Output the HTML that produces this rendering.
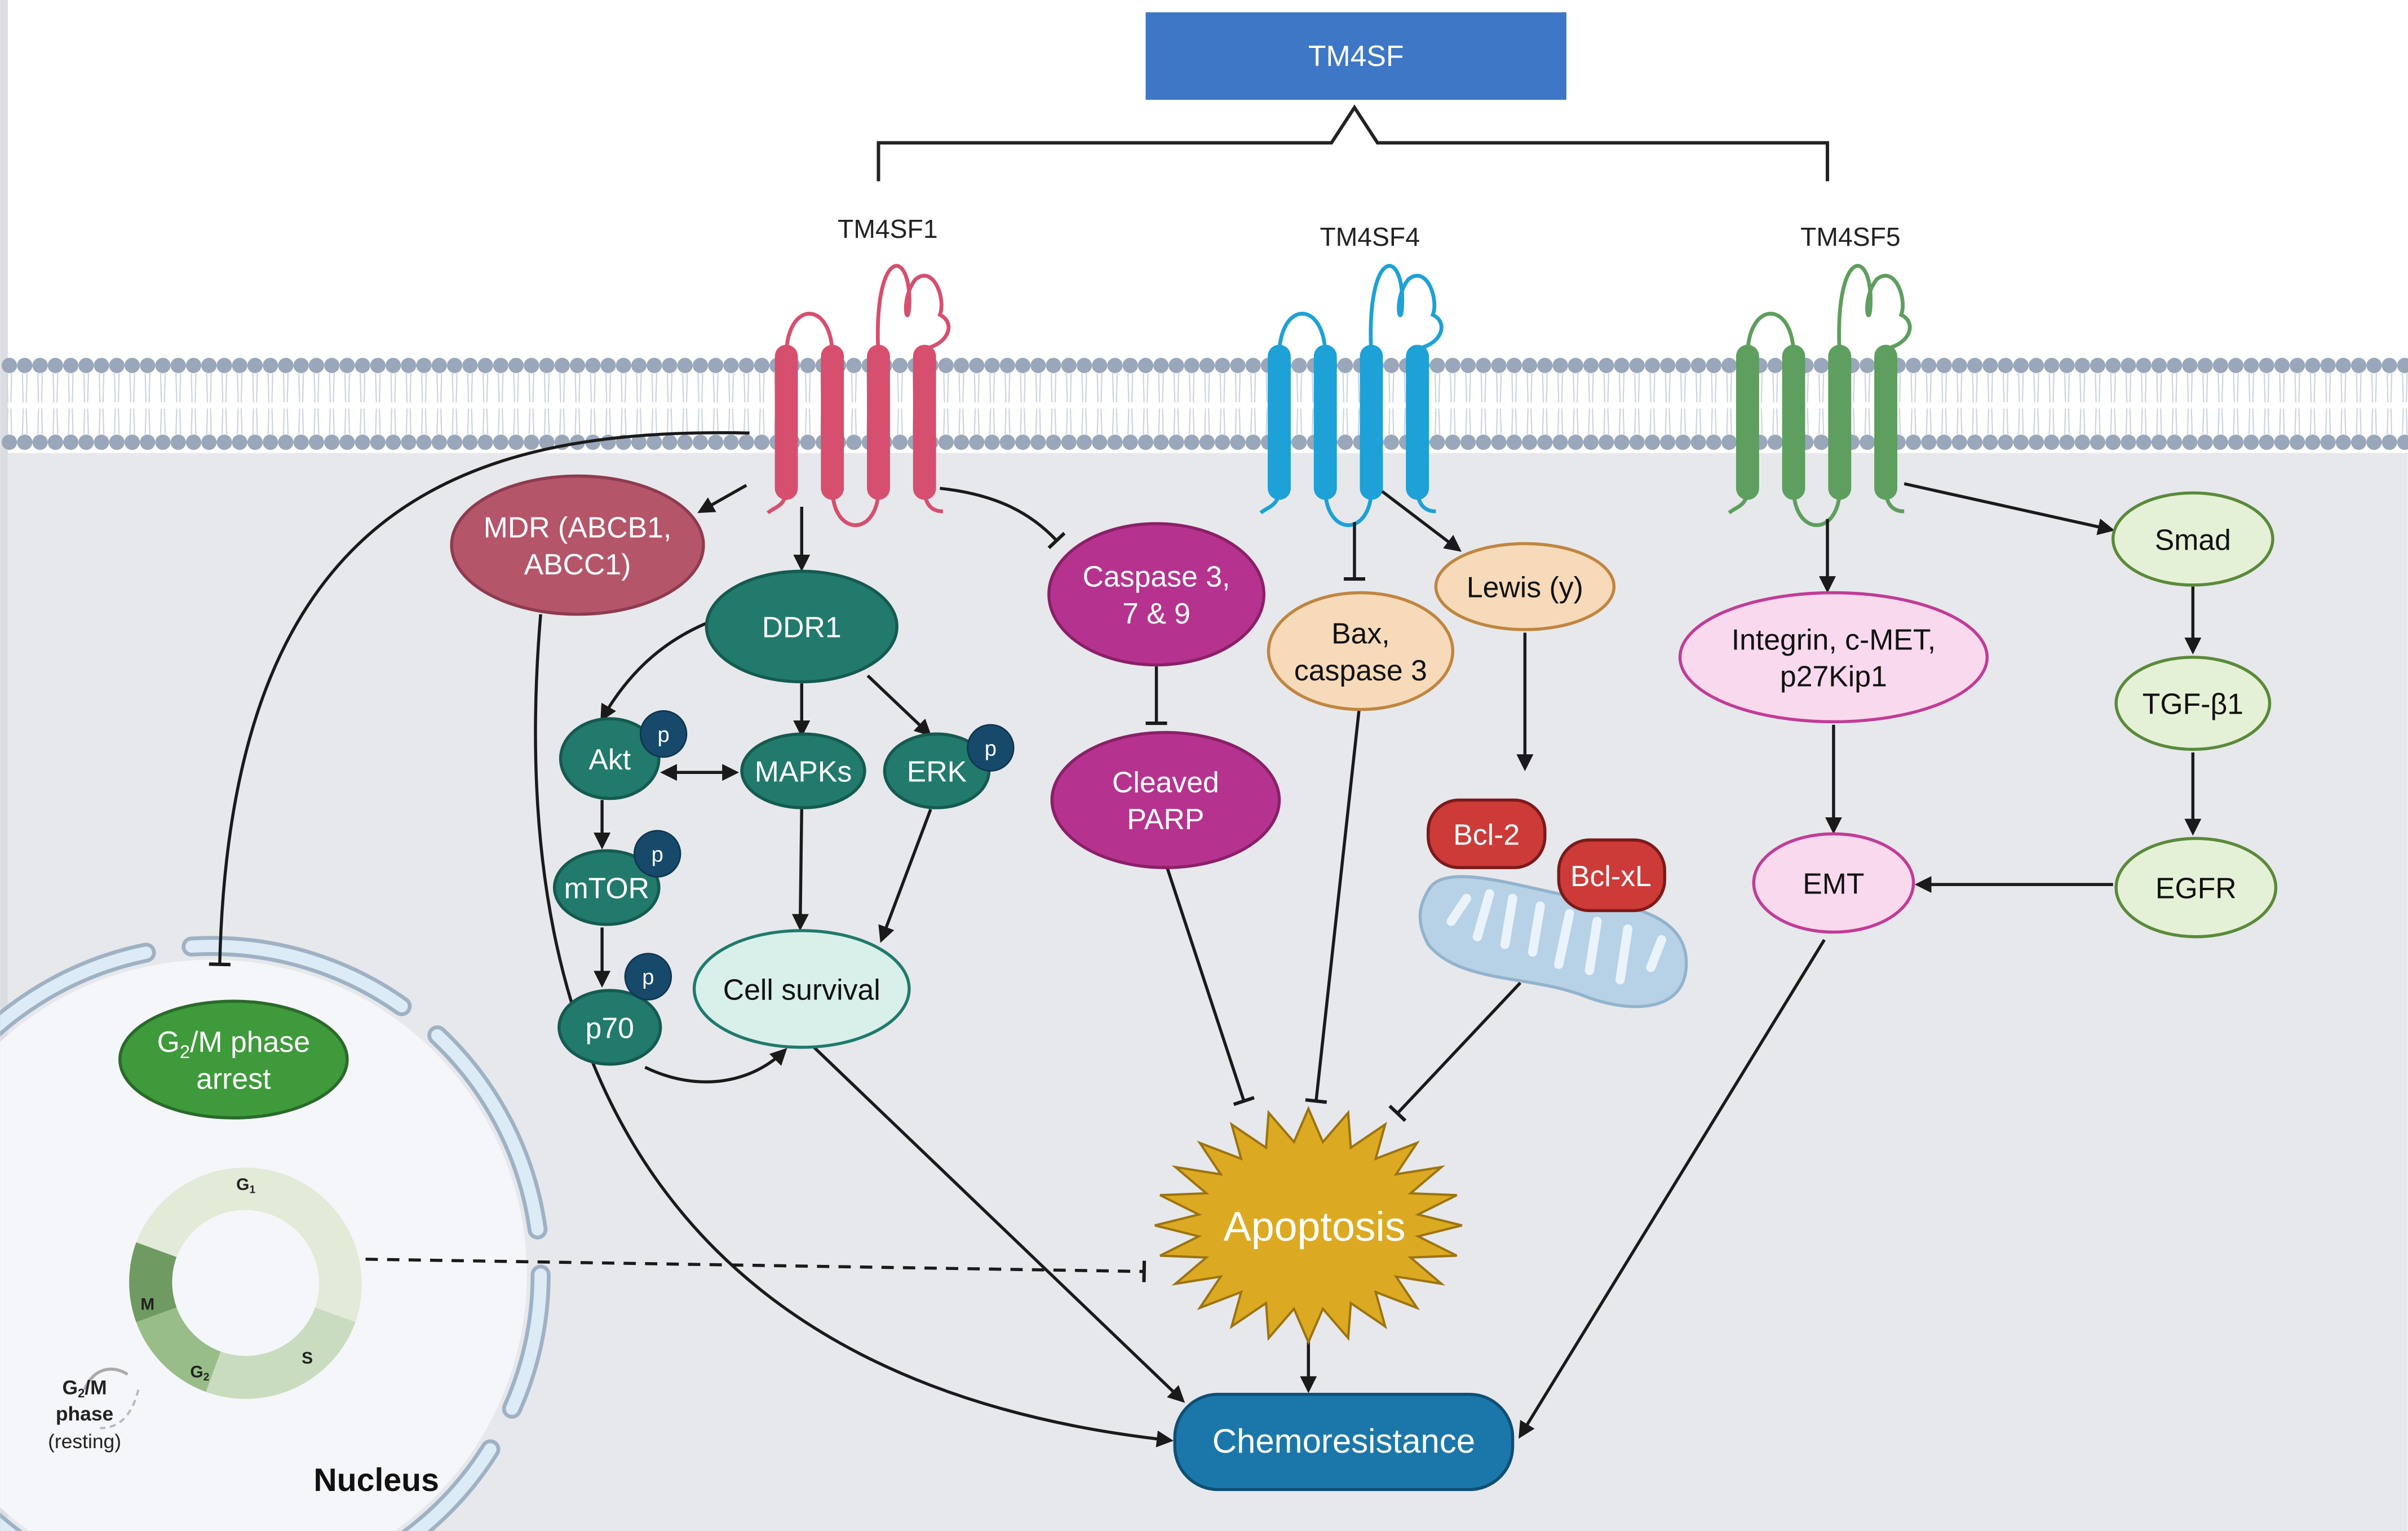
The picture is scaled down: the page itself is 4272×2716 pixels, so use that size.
<!DOCTYPE html>
<html><head><meta charset="utf-8"><style>
html,body{margin:0;padding:0;background:#fff;width:4272px;height:2716px;overflow:hidden}
svg{display:block}
text{font-family:"Liberation Sans",sans-serif}
</style></head><body>
<svg width="4272" height="2716" viewBox="0 0 1568 997" xmlns="http://www.w3.org/2000/svg">
<defs>
<marker id="ar" viewBox="0 0 10 10" refX="8" refY="5" markerWidth="11" markerHeight="11" orient="auto-start-reverse" markerUnits="userSpaceOnUse"><path d="M0,0 L10,5 L0,10 z" fill="#1a1a1a"/></marker>
<marker id="tb" viewBox="0 0 10 10" refX="5" refY="5" markerWidth="14" markerHeight="14" orient="auto" markerUnits="userSpaceOnUse"><path d="M5,0 L5,10" stroke="#1a1a1a" stroke-width="1.6"/></marker>
<g id="prot" fill="none" stroke="currentColor">
<path d="M0,232 L0,318 M30,232 L30,318 M60,232 L60,318 M90,232 L90,318" stroke-width="15" stroke-linecap="round"/>
<path d="M0,232 C0,195 30,195 30,232 M60,232 C56,160 82,160 80,200 C79,215 74,195 84,182 C96,172 104,195 100,205 C110,210 106,222 94,226 L90,232 M30,318 C30,350 60,350 60,318 M0,318 C0,330 -8,330 -12,334 M90,318 C90,330 96,333 102,333" stroke-width="2.5"/>
</g>
<clipPath id="nc"><rect x="0" y="295" width="1568" height="702"/></clipPath>
</defs>

<rect width="1568" height="997" fill="#fff"/>
<rect x="0" y="295" width="1568" height="702" fill="#e7e8ec"/>
<rect x="0" y="0" width="5" height="997" fill="#dcdde2"/>
<g stroke="#cbd4e0" stroke-width="0.8">
<path id="tails" d=""/>
</g>
<g id="mem"></g>

<!-- nucleus -->
<g clip-path="url(#nc)">
<circle cx="138" cy="830" r="205" fill="#f5f6f9"/>
<circle cx="138" cy="830" r="214" fill="none" stroke="#9fb2c4" stroke-width="13" stroke-dasharray="145 30" stroke-dashoffset="55" stroke-linecap="round"/>
<circle cx="138" cy="830" r="214" fill="none" stroke="#dcebf6" stroke-width="8" stroke-dasharray="145 30" stroke-dashoffset="55" stroke-linecap="round"/>
</g>

<rect x="746" y="8" width="274" height="57" fill="#3d77c5"/>
<text x="883" y="43" font-size="19" fill="#fff" text-anchor="middle">TM4SF</text>
<path d="M572,118 L572,93 L867,93 L882,70 L897,93 L1190,93 L1190,118" fill="none" stroke="#222" stroke-width="2.2"/>
<text x="578" y="155" font-size="17" fill="#222" text-anchor="middle">TM4SF1</text>
<text x="892" y="160" font-size="17" fill="#222" text-anchor="middle">TM4SF4</text>
<text x="1205" y="160" font-size="17" fill="#222" text-anchor="middle">TM4SF5</text>

<use href="#prot" x="512" y="0" style="color:#d64f6e"/>
<use href="#prot" x="833" y="0" style="color:#1da1d6"/>
<use href="#prot" x="1138" y="0" style="color:#5e9e5e"/>

<g fill="none" stroke="#1a1a1a" stroke-width="2">
<path d="M488,282 C300,278 150,330 143,628" marker-end="url(#tb)"/>
<path d="M486,316 L456,333" marker-end="url(#ar)"/>
<path d="M522,330 L522,370" marker-end="url(#ar)"/>
<path d="M612,318 C650,322 672,335 688,352" marker-end="url(#tb)"/>
<path d="M352,400 C325,720 460,905 762,938" marker-end="url(#ar)"/>
<path d="M462,405 C430,418 408,440 392,468" marker-end="url(#ar)"/>
<path d="M522,445 L522,478" marker-end="url(#ar)"/>
<path d="M565,440 L605,478" marker-end="url(#ar)"/>
<path d="M432,503 L479,503" marker-start="url(#ar)" marker-end="url(#ar)"/>
<path d="M392,521 L392,551" marker-end="url(#ar)"/>
<path d="M392,604 L392,641" marker-end="url(#ar)"/>
<path d="M420,695 C455,712 490,705 511,684" marker-end="url(#ar)"/>
<path d="M522,527 L521,604" marker-end="url(#ar)"/>
<path d="M606,527 L574,612" marker-end="url(#ar)"/>
<path d="M530,682 L770,912" marker-end="url(#ar)"/>
<path d="M753,434 L753,471" marker-end="url(#tb)"/>
<path d="M760,565 L810,717" marker-end="url(#tb)"/>
<path d="M885,462 L857,717" marker-end="url(#tb)"/>
<path d="M882,340 L882,377" marker-end="url(#tb)"/>
<path d="M900,320 L950,358" marker-end="url(#ar)"/>
<path d="M993,412 L993,500" marker-end="url(#ar)"/>
<path d="M990,640 L910,725" marker-end="url(#tb)"/>
<path d="M852,865 L852,905" marker-end="url(#ar)"/>
<path d="M1190,338 L1190,384" marker-end="url(#ar)"/>
<path d="M1194,472 L1194,541" marker-end="url(#ar)"/>
<path d="M1240,315 L1375,345" marker-end="url(#ar)"/>
<path d="M1428,382 L1428,424" marker-end="url(#ar)"/>
<path d="M1428,490 L1428,542" marker-end="url(#ar)"/>
<path d="M1376,576 L1249,576" marker-end="url(#ar)"/>
<path d="M1188,612 L990,935" marker-end="url(#ar)"/>
<path d="M238,820 L745,828" stroke-dasharray="8 6" marker-end="url(#tb)"/>
</g>

<g font-size="19" text-anchor="middle" fill="#fff">
<ellipse cx="376" cy="355" rx="82" ry="45" fill="#b5556a" stroke="#8e3b4f" stroke-width="2"/>
<text x="376" y="350">MDR (ABCB1,</text><text x="376" y="374">ABCC1)</text>
<ellipse cx="522" cy="408" rx="62" ry="36" fill="#217a6c" stroke="#155a50" stroke-width="2"/>
<text x="522" y="415">DDR1</text>
<ellipse cx="397" cy="494" rx="32" ry="26" fill="#217a6c" stroke="#155a50" stroke-width="2"/>
<text x="397" y="501">Akt</text>
<ellipse cx="523" cy="502" rx="40" ry="24" fill="#217a6c" stroke="#155a50" stroke-width="2"/>
<text x="523" y="509">MAPKs</text>
<ellipse cx="610" cy="502" rx="34" ry="24" fill="#217a6c" stroke="#155a50" stroke-width="2"/>
<text x="610" y="509">ERK</text>
<ellipse cx="395" cy="578" rx="34" ry="24" fill="#217a6c" stroke="#155a50" stroke-width="2"/>
<text x="395" y="585">mTOR</text>
<ellipse cx="397" cy="669" rx="33" ry="24" fill="#217a6c" stroke="#155a50" stroke-width="2"/>
<text x="397" y="676">p70</text>
<g font-size="14">
<circle cx="432" cy="478" r="15" fill="#17496a" stroke="#0f3550"/><text x="432" y="483">p</text>
<circle cx="645" cy="487" r="15" fill="#17496a" stroke="#0f3550"/><text x="645" y="492">p</text>
<circle cx="428" cy="556" r="15" fill="#17496a" stroke="#0f3550"/><text x="428" y="561">p</text>
<circle cx="422" cy="636" r="15" fill="#17496a" stroke="#0f3550"/><text x="422" y="641">p</text>
</g>
<ellipse cx="522" cy="644" rx="70" ry="38" fill="#d9f0ea" stroke="#1f7a6c" stroke-width="2"/>
<text x="522" y="651" fill="#111">Cell survival</text>
<ellipse cx="753" cy="387" rx="70" ry="46" fill="#b5338e" stroke="#8a2068" stroke-width="2"/>
<text x="753" y="382">Caspase 3,</text><text x="753" y="406">7 &amp; 9</text>
<ellipse cx="759" cy="521" rx="74" ry="44" fill="#b5338e" stroke="#8a2068" stroke-width="2"/>
<text x="759" y="516">Cleaved</text><text x="759" y="540">PARP</text>
<ellipse cx="886" cy="424" rx="60" ry="38" fill="#f6dab9" stroke="#c0853f" stroke-width="2"/>
<text x="886" y="419" fill="#111">Bax,</text><text x="886" y="443" fill="#111">caspase 3</text>
<ellipse cx="993" cy="382" rx="58" ry="28" fill="#f6dab9" stroke="#c0853f" stroke-width="2"/>
<text x="993" y="389" fill="#111">Lewis (y)</text>
<path d="M930,580 C940,560 990,578 1030,585 C1070,590 1100,600 1098,630 C1096,660 1060,660 1030,648 C995,635 950,640 930,615 C922,600 924,590 930,580 Z" fill="#b7d1e6" stroke="#92b3cc" stroke-width="2"/>
<path d="M945,600 L955,585 M962,610 L970,582 M980,615 L985,585 M998,620 L1003,590 M1015,628 L1022,595 M1035,632 L1040,600 M1055,638 L1060,605 M1075,630 L1082,612" stroke="#eaf3fa" stroke-width="6" stroke-linecap="round"/>
<rect x="930" y="521" width="76" height="44" rx="20" fill="#cc3b38" stroke="#7d1a1a" stroke-width="2"/>
<text x="968" y="550">Bcl-2</text>
<rect x="1015" y="547" width="69" height="46" rx="20" fill="#cc3b38" stroke="#7d1a1a" stroke-width="2"/>
<text x="1049" y="577">Bcl-xL</text>
<ellipse cx="1194" cy="428" rx="100" ry="42" fill="#f9d9ed" stroke="#c13c95" stroke-width="2"/>
<text x="1194" y="423" fill="#111">Integrin, c-MET,</text><text x="1194" y="447" fill="#111">p27Kip1</text>
<ellipse cx="1194" cy="575" rx="52" ry="32" fill="#f9d9ed" stroke="#c13c95" stroke-width="2"/>
<text x="1194" y="582" fill="#111">EMT</text>
<ellipse cx="1428" cy="351" rx="52" ry="30" fill="#e5f1d6" stroke="#5a8a3a" stroke-width="2"/>
<text x="1428" y="358" fill="#111">Smad</text>
<ellipse cx="1428" cy="458" rx="50" ry="30" fill="#e5f1d6" stroke="#5a8a3a" stroke-width="2"/>
<text x="1428" y="465" fill="#111">TGF-β1</text>
<ellipse cx="1430" cy="578" rx="52" ry="32" fill="#e5f1d6" stroke="#5a8a3a" stroke-width="2"/>
<text x="1430" y="585" fill="#111">EGFR</text>
<polygon id="star" fill="#dcaa22" stroke="#9c7410" stroke-width="1.5" points=""/>
<text x="856" y="808" font-size="27">Apoptosis</text>
<rect x="765" y="908" width="220" height="62" rx="28" fill="#1b77aa" stroke="#0f4f74" stroke-width="2"/>
<text x="875" y="946" font-size="22">Chemoresistance</text>
<ellipse cx="152" cy="690" rx="74" ry="38" fill="#3e9a3a" stroke="#2a6a2a" stroke-width="2"/>
<text x="152" y="685">G<tspan font-size="12" dy="4">2</tspan><tspan dy="-4">/M phase</tspan></text><text x="152" y="709">arrest</text>
</g>

<g>
<path id="cc" d=""/>
<g font-size="11" font-weight="bold" fill="#222" text-anchor="middle">
<text x="160" y="775">G<tspan font-size="7" dy="2">1</tspan></text>
<text x="200" y="888">S</text>
<text x="130" y="897">G<tspan font-size="7" dy="2">2</tspan></text>
<text x="96" y="853">M</text>
</g>
<path d="M83,895 C72,888 60,892 55,905" fill="none" stroke="#aaa" stroke-width="2"/>
<path d="M90,905 C85,925 75,930 65,930" fill="none" stroke="#bbb" stroke-width="1.5" stroke-dasharray="4 3"/>
<g text-anchor="middle" fill="#222">
<text x="55" y="908" font-size="13" font-weight="bold">G<tspan font-size="8" dy="2">2</tspan><tspan dy="-2">/M</tspan></text>
<text x="55" y="925" font-size="13" font-weight="bold">phase</text>
<text x="55" y="943" font-size="13">(resting)</text>
</g>
<text x="245" y="971" font-size="21" font-weight="bold" fill="#111" text-anchor="middle">Nucleus</text>
</g>
</svg>
<script>
(function(){
var NS="http://www.w3.org/2000/svg";
var mem=document.getElementById("mem");
var s="";var t="";
for(var x=6;x<1568;x+=10){
 s+='<circle cx="'+x+'" cy="238" r="5" fill="#9aa7ba"/><circle cx="'+x+'" cy="288" r="5" fill="#9aa7ba"/>';
 t+="M"+(x-1.5)+",243 L"+(x-1)+",262 M"+(x+1.5)+",243 L"+(x+1)+",262 M"+(x-1.5)+",283 L"+(x-1)+",266 M"+(x+1.5)+",283 L"+(x+1)+",266 ";
}
mem.innerHTML=s;
document.getElementById("tails").setAttribute("d",t);
var p=[],n=24,cx=852,cy=798;
for(var i=0;i<2*n;i++){var a=Math.PI*i/n-Math.PI/2;var r=(i%2==0)?1:0.72;
 p.push((cx+100*r*Math.cos(a)).toFixed(1)+","+(cy+76*r*Math.sin(a)).toFixed(1));}
document.getElementById("star").setAttribute("points",p.join(" "));
var g=document.getElementById("cc").parentNode;var ccx=160,ccy=835,R=76,r0=48;
function pt(a,rr){a=a*Math.PI/180;return (ccx+rr*Math.cos(a)).toFixed(1)+","+(ccy+rr*Math.sin(a)).toFixed(1);}
var h="";
[[-160,20,"#e2ead8"],[20,110,"#c9dcc0"],[110,160,"#98bd89"],[160,200,"#6f9a62"]].forEach(function(sg){
 var large=(sg[1]-sg[0])>180?1:0;
 h+='<path fill="'+sg[2]+'" d="M'+pt(sg[0],R)+' A'+R+','+R+' 0 '+large+' 1 '+pt(sg[1],R)+' L'+pt(sg[1],r0)+' A'+r0+','+r0+' 0 '+large+' 0 '+pt(sg[0],r0)+' Z"/>';
});
var gg=document.createElementNS(NS,"g");gg.innerHTML=h;g.insertBefore(gg,g.firstChild);
})();
</script>
</body></html>
